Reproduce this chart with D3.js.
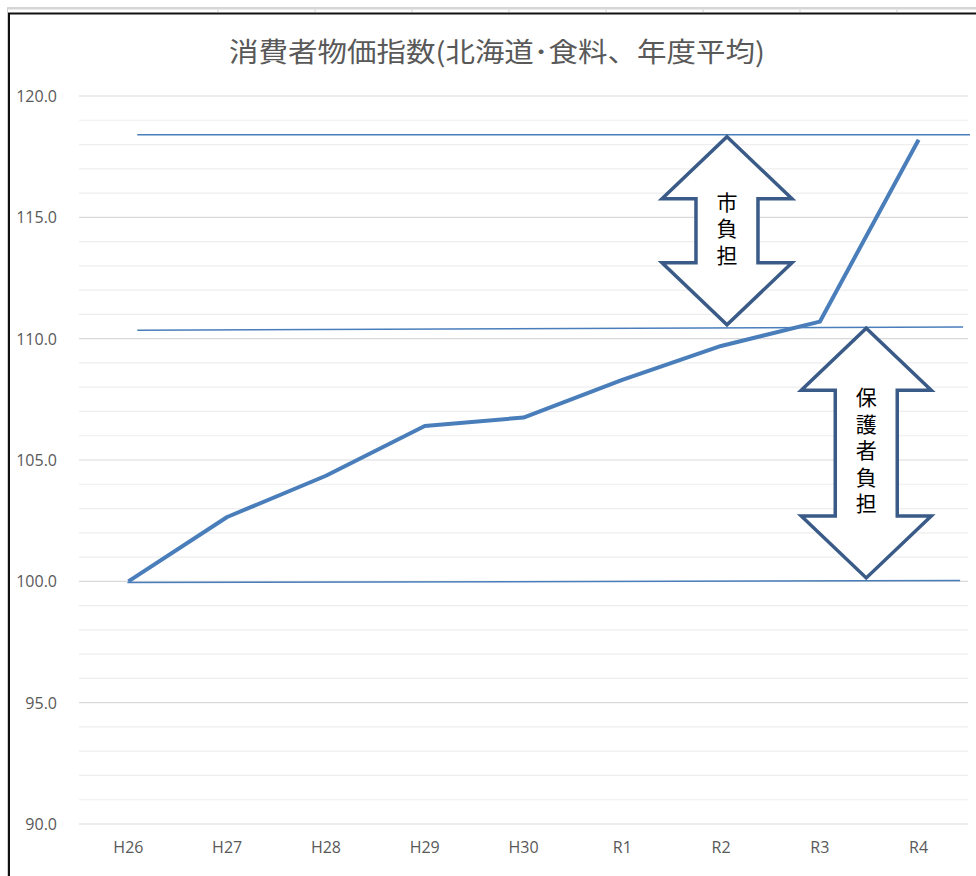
<!DOCTYPE html>
<html>
<head>
<meta charset="utf-8">
<script src="https://cdn.jsdelivr.net/npm/d3@7"></script>
<style>
  body { margin: 0; background: #fff; }
  svg { display: block; }
  .axis text { font-family: "Open Sans", "Noto Sans", sans-serif; font-size: 16px; fill: #595959; }
  .axis .domain { display: none; }
  .chart-title { font-family: "Noto Sans CJK JP", sans-serif; font-size: 27px; fill: #595959; }
  .arrow-label { font-family: "Noto Sans CJK JP", sans-serif; font-size: 21px; fill: #000; }
</style>
</head>
<body>
<div id="chart"></div>
<script>
// categories (fiscal years) and the index values
const categories = ['H26', 'H27', 'H28', 'H29', 'H30', 'R1', 'R2', 'R3', 'R4'];
const cpiValues = [100.0, 102.65, 104.35, 106.4, 106.75, 108.3, 109.7, 110.7, 118.2];
const yTicks = [90, 95, 100, 105, 110, 115, 120];
const yMinorTicks = d3.range(90, 121, 1);

// hand drawn reference lines: start/end in category index units, level in index units
const refStartIdx = [0.09, 0.09, -0.01];
const refEndIdx = [8.52, 8.45, 8.42];
const refStartValue = [118.4, 110.35, 99.95];
const refEndValue = [118.4, 110.48, 100.03];

// double arrows marking who pays
const arrowLabels = ['市負担', '保護者負担'];
const arrowIdx = [6.06, 7.47];
const arrowTop = [118.32, 110.43];
const arrowBottom = [110.57, 100.14];

const chartTitle = '消費者物価指数(北海道･食料、年度平均)';

class PriceIndexChart {
  constructor(_config) {
    this.config = {
      parentElement: _config.parentElement,
      containerWidth: 976,
      containerHeight: 876,
      margin: { top: 96, right: 8, bottom: 52, left: 79 },
    };
    this.initVis();
  }

  initVis() {
    const vis = this;

    vis.width = vis.config.containerWidth - vis.config.margin.left - vis.config.margin.right;
    vis.height = vis.config.containerHeight - vis.config.margin.top - vis.config.margin.bottom;

    vis.svg = d3.select(vis.config.parentElement).append('svg')
      .attr('width', vis.config.containerWidth)
      .attr('height', vis.config.containerHeight);

    /* spreadsheet edge behind the chart object */
    vis.svg.append('rect')
      .attr('x', 7).attr('y', 7)
      .attr('width', vis.config.containerWidth).attr('height', 2.5)
      .attr('fill', '#d6d6d6');
    vis.svg.selectAll('.sheet-col')
      .data(d3.range(218, vis.config.containerWidth, 97))
      .join('line')
      .attr('class', 'sheet-col')
      .attr('x1', (d) => d).attr('x2', (d) => d)
      .attr('y1', 9.5).attr('y2', 12)
      .attr('stroke', '#d0d0d0');
    vis.svg.append('line')
      .attr('x1', 7.5).attr('x2', 7.5).attr('y1', 9).attr('y2', vis.config.containerHeight)
      .attr('stroke', '#cfcfcf');
    vis.svg.append('path')
      .attr('d', `M9,${vis.config.containerHeight}V13.5H${vis.config.containerWidth}`)
      .attr('fill', 'none')
      .attr('stroke', '#111')
      .attr('stroke-width', 2);

    vis.svg.append('text')
      .attr('class', 'chart-title')
      .attr('x', 497)
      .attr('y', 50)
      .attr('text-anchor', 'middle')
      .attr('dominant-baseline', 'central')
      .attr('textLength', 536)
      .attr('lengthAdjust', 'spacingAndGlyphs')
      .text(chartTitle);

    vis.chartArea = vis.svg.append('g')
      .attr('transform', `translate(${vis.config.margin.left},${vis.config.margin.top})`);

    /* scales */
    vis.xScale = d3.scaleBand()
      .domain(categories)
      .range([0, vis.width]);
    vis.xIndex = d3.scaleLinear()
      .domain([-0.5, categories.length - 0.5])
      .range([0, vis.width]);
    vis.yScale = d3.scaleLinear()
      .domain([90, 120])
      .range([vis.height, 0]);

    vis.xAxis = d3.axisBottom(vis.xScale).tickSize(0).tickPadding(18);
    vis.yAxis = d3.axisLeft(vis.yScale)
      .tickValues(yTicks)
      .tickFormat(d3.format('.1f'))
      .tickSize(0)
      .tickPadding(22);

    vis.gridGroup = vis.chartArea.append('g');
    vis.xAxisGroup = vis.chartArea.append('g')
      .attr('class', 'axis')
      .attr('transform', `translate(0,${vis.height})`);
    vis.yAxisGroup = vis.chartArea.append('g').attr('class', 'axis');
    vis.chart = vis.chartArea.append('g');

    vis.renderVis();
  }

  renderVis() {
    const vis = this;

    /* gridlines: faint every 1.0, stronger every 5.0 */
    vis.gridGroup.selectAll('.grid-minor')
      .data(yMinorTicks.filter((d) => d % 5 !== 0))
      .join('line')
      .attr('class', 'grid-minor')
      .attr('x1', 0).attr('x2', vis.width)
      .attr('y1', (d) => vis.yScale(d)).attr('y2', (d) => vis.yScale(d))
      .attr('stroke', '#eeeeee')
      .attr('stroke-width', 1.2);
    vis.gridGroup.selectAll('.grid-major')
      .data(yTicks)
      .join('line')
      .attr('class', 'grid-major')
      .attr('x1', 0).attr('x2', vis.width)
      .attr('y1', (d) => vis.yScale(d)).attr('y2', (d) => vis.yScale(d))
      .attr('stroke', '#d9d9d9')
      .attr('stroke-width', 1.2);

    vis.xAxisGroup.call(vis.xAxis);
    vis.yAxisGroup.call(vis.yAxis);
    vis.yAxisGroup.selectAll('text').attr('dy', '0.34em');

    /* reference lines */
    vis.chart.selectAll('.ref-line')
      .data(refStartIdx.map((d, i) => i))
      .join('line')
      .attr('class', 'ref-line')
      .attr('x1', (i) => vis.xIndex(refStartIdx[i]))
      .attr('x2', (i) => vis.xIndex(refEndIdx[i]))
      .attr('y1', (i) => vis.yScale(refStartValue[i]))
      .attr('y2', (i) => vis.yScale(refEndValue[i]))
      .attr('stroke', '#4a7ebb')
      .attr('stroke-width', 1.5);

    /* the index line */
    const line = d3.line()
      .x((d, i) => vis.xScale(categories[i]) + vis.xScale.bandwidth() / 2)
      .y((d) => vis.yScale(d));
    vis.chart.append('path')
      .datum(cpiValues)
      .attr('d', line)
      .attr('fill', 'none')
      .attr('stroke', '#4a7ebb')
      .attr('stroke-width', 4)
      .attr('stroke-linejoin', 'round');

    /* double headed block arrows */
    const headHalf = 65;
    const shaftHalf = 31;
    const headLen = 62;
    const arrows = vis.chart.selectAll('.arrow')
      .data(arrowLabels.map((d, i) => i))
      .join('g')
      .attr('class', 'arrow');

    arrows.append('path')
      .attr('d', (i) => {
        const cx = vis.xIndex(arrowIdx[i]);
        const top = vis.yScale(arrowTop[i]);
        const bottom = vis.yScale(arrowBottom[i]);
        return `M${cx},${top}`
          + `L${cx + headHalf},${top + headLen}H${cx + shaftHalf}`
          + `V${bottom - headLen}H${cx + headHalf}`
          + `L${cx},${bottom}`
          + `L${cx - headHalf},${bottom - headLen}H${cx - shaftHalf}`
          + `V${top + headLen}H${cx - headHalf}Z`;
      })
      .attr('fill', '#fff')
      .attr('stroke', '#3a5b88')
      .attr('stroke-width', 3.5)
      .attr('stroke-linejoin', 'miter');

    /* vertical labels, one text each so the characters stack */
    arrows.append('text')
      .attr('class', 'arrow-label')
      .attr('x', (i) => vis.xIndex(arrowIdx[i]))
      .attr('y', (i) => (vis.yScale(arrowTop[i]) + vis.yScale(arrowBottom[i])) / 2)
      .attr('writing-mode', 'vertical-rl')
      .attr('text-anchor', 'middle')
      .style('letter-spacing', '5.5px')
      .text((i) => arrowLabels[i]);
  }
}

new PriceIndexChart({ parentElement: '#chart' });
</script>
</body>
</html>
